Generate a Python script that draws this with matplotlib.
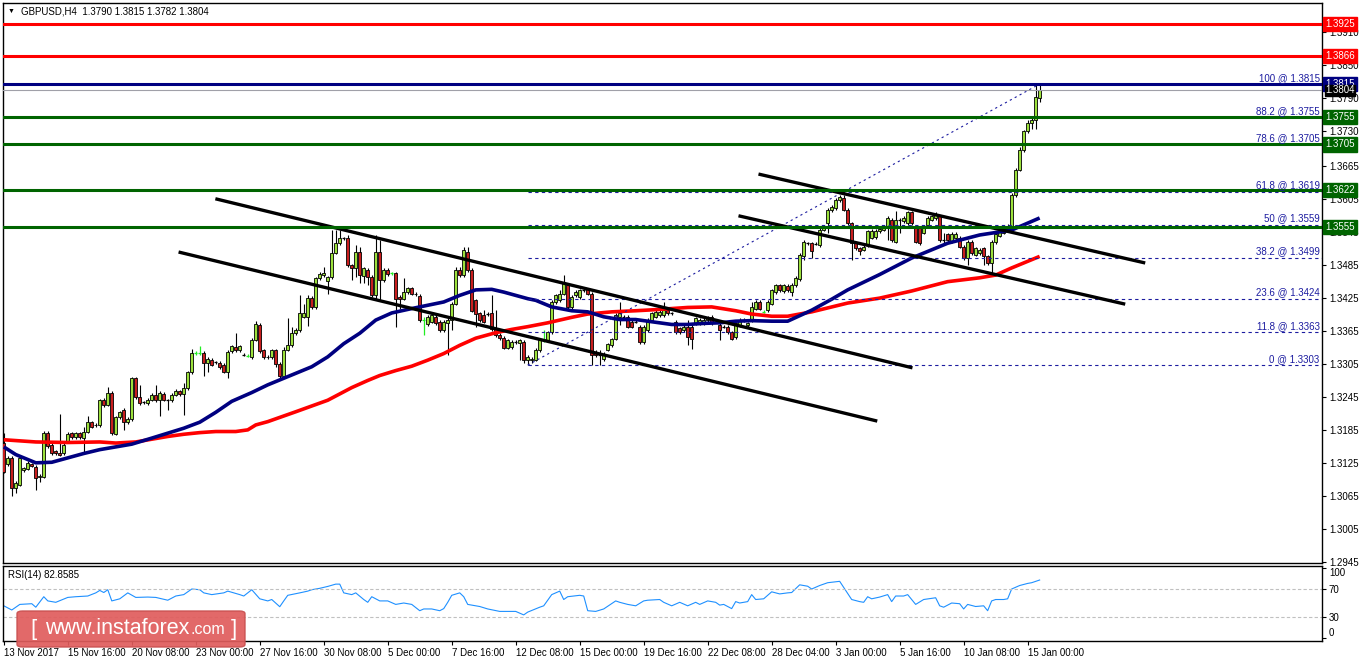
import matplotlib
matplotlib.use("Agg")
import matplotlib.pyplot as plt
import matplotlib.transforms as mtransforms
from matplotlib.patches import Rectangle, FancyBboxPatch

TITLE = "GBPUSD,H4  1.3790 1.3815 1.3782 1.3804"

# candle prices, in 1e-4 units (13161 -> 1.3161)
opens = [
    13161, 13122, 13134, 13079, 13085, 13112, 13114, 13122, 13118, 13100,
    13100, 13180, 13158, 13146, 13142, 13142, 13164, 13179, 13172, 13179,
    13170, 13182, 13199, 13194, 13194, 13240, 13231, 13252, 13178, 13208,
    13222, 13199, 13205, 13279, 13244, 13235, 13234, 13240, 13249, 13240,
    13251, 13239, 13239, 13249, 13255, 13250, 13261, 13290, 13325, 13325,
    13325, 13307, 13313, 13308, 13307, 13304, 13291, 13328, 13336, 13330,
    13322, 13320, 13318, 13349, 13376, 13330, 13318, 13317, 13330, 13305,
    13283, 13331, 13339, 13361, 13367, 13391, 13391, 13426, 13408, 13461,
    13467, 13457, 13463, 13508, 13525, 13534, 13534, 13485, 13479, 13509,
    13465, 13477, 13464, 13430, 13509, 13458, 13477, 13470, 13470, 13427,
    13424, 13436, 13443, 13433, 13429, 13385, 13378, 13382, 13391, 13382,
    13367, 13379, 13385, 13415, 13476, 13467, 13509, 13476, 13421, 13397,
    13394, 13396, 13397, 13368, 13358, 13353, 13335, 13336, 13345, 13344,
    13345, 13313, 13313, 13313, 13330, 13348, 13348, 13363, 13418, 13421,
    13433, 13448, 13409, 13430, 13427, 13439, 13441, 13433, 13327, 13321,
    13314, 13331, 13339, 13351, 13391, 13391, 13391, 13382, 13382, 13373,
    13345, 13367, 13385, 13391, 13394, 13394, 13403, 13397, 13382, 13370,
    13367, 13373, 13373, 13379, 13379, 13379, 13385, 13391, 13382, 13376,
    13373, 13373, 13363, 13354, 13376, 13385, 13376, 13385, 13406, 13418,
    13400, 13403, 13415, 13436, 13448, 13438, 13447, 13437, 13448, 13460,
    13502, 13525, 13525, 13524, 13522, 13550, 13561, 13585, 13589, 13603,
    13607, 13586, 13561, 13525, 13516, 13513, 13522, 13535, 13536, 13547,
    13550, 13556, 13568, 13528, 13568, 13565, 13562, 13581, 13556, 13553,
    13544, 13559, 13568, 13571, 13574, 13531, 13541, 13528, 13535, 13535,
    13519, 13498, 13528, 13504, 13507, 13516, 13501, 13489, 13527, 13539,
    13544, 13550, 13556, 13612, 13659, 13694, 13729, 13744, 13750, 13790,
]
closes = [
    13109, 13134, 13079, 13088, 13134, 13115, 13125, 13120, 13097, 13101,
    13180, 13155, 13143, 13142, 13140, 13158, 13178, 13172, 13179, 13172,
    13182, 13199, 13191, 13193, 13239, 13230, 13252, 13179, 13208, 13217,
    13200, 13205, 13279, 13244, 13234, 13235, 13240, 13249, 13239, 13252,
    13240, 13239, 13249, 13256, 13250, 13261, 13290, 13325, 13325, 13325,
    13307, 13315, 13304, 13308, 13299, 13291, 13327, 13337, 13330, 13337,
    13322, 13320, 13349, 13378, 13328, 13317, 13317, 13330, 13305, 13283,
    13330, 13339, 13361, 13367, 13397, 13397, 13426, 13408, 13461, 13469,
    13471, 13463, 13508, 13525, 13534, 13534, 13485, 13479, 13509, 13467,
    13479, 13464, 13430, 13509, 13458, 13477, 13469, 13470, 13424, 13424,
    13436, 13443, 13433, 13432, 13385, 13385, 13391, 13394, 13379, 13367,
    13382, 13385, 13415, 13476, 13467, 13512, 13476, 13402, 13396, 13385,
    13382, 13396, 13368, 13358, 13352, 13335, 13348, 13345, 13345, 13348,
    13313, 13318, 13315, 13331, 13348, 13348, 13363, 13418, 13430, 13433,
    13455, 13409, 13427, 13436, 13439, 13439, 13433, 13321, 13321, 13321,
    13324, 13341, 13350, 13394, 13397, 13391, 13373, 13373, 13382, 13345,
    13373, 13385, 13397, 13400, 13400, 13403, 13397, 13397, 13363, 13363,
    13373, 13354, 13351, 13388, 13385, 13385, 13390, 13379, 13382, 13367,
    13373, 13363, 13351, 13379, 13385, 13386, 13379, 13409, 13418, 13406,
    13400, 13418, 13439, 13448, 13439, 13448, 13439, 13449, 13462, 13504,
    13527, 13525, 13510, 13524, 13550, 13556, 13586, 13591, 13604, 13609,
    13586, 13561, 13525, 13516, 13510, 13519, 13547, 13548, 13548, 13551,
    13556, 13571, 13531, 13568, 13568, 13571, 13581, 13562, 13528, 13525,
    13556, 13571, 13574, 13579, 13531, 13531, 13531, 13542, 13542, 13519,
    13498, 13528, 13507, 13516, 13513, 13501, 13489, 13527, 13541, 13547,
    13551, 13557, 13613, 13659, 13695, 13729, 13744, 13750, 13792, 13804,
]
# long wicks (bar -> price); the rest get a short wick
wick_highs = {0: 13180, 1: 13137, 2: 13137, 4: 13137, 14: 13214, 20: 13191, 21: 13211,
              26: 13263, 34: 13267, 38: 13267, 45: 13271, 47: 13332, 49: 13338, 56: 13331,
              58: 13361, 63: 13384, 70: 13336, 71: 13388, 72: 13373, 74: 13430, 75: 13415,
              76: 13430, 80: 13482, 82: 13549, 83: 13549, 84: 13549, 86: 13540, 88: 13521,
              89: 13518, 93: 13540, 94: 13531, 100: 13461, 104: 13430, 105: 13391,
              113: 13482, 114: 13482, 115: 13518, 116: 13518, 120: 13403, 122: 13430,
              123: 13403, 135: 13367, 139: 13439, 140: 13467, 149: 13330, 154: 13418,
              165: 13418, 171: 13385, 187: 13418, 200: 13531, 209: 13613, 210: 13612,
              221: 13574, 223: 13583, 227: 13583, 235: 13544, 254: 13701, 256: 13750,
              258: 13814, 259: 13815}
wick_lows = {0: 13108, 2: 13064, 3: 13070, 8: 13076, 9: 13090, 20: 13143, 30: 13185,
             39: 13210, 41: 13222, 45: 13213, 50: 13284, 51: 13291, 56: 13279, 68: 13300,
             69: 13276, 76: 13374, 81: 13433, 87: 13458, 88: 13464, 89: 13452, 90: 13452,
             91: 13449, 92: 13427, 93: 13421, 94: 13421, 98: 13372, 99: 13406, 105: 13358,
             109: 13364, 111: 13321, 112: 13367, 118: 13373, 125: 13333, 129: 13312,
             130: 13306, 131: 13303, 132: 13306, 147: 13303, 149: 13303, 154: 13376,
             171: 13339, 172: 13333, 179: 13348, 197: 13428, 200: 13495, 202: 13498,
             206: 13544, 212: 13495, 214: 13504, 221: 13531, 224: 13544, 228: 13525,
             235: 13525, 240: 13495, 241: 13486, 245: 13486, 247: 13471, 257: 13733,
             258: 13733, 259: 13782}
bright_doji = [48, 49, 61, 97, 105, 135, 190]

# moving averages read at some bars
ma_fast_bars = [0, 3, 6, 8, 12, 16, 20, 24, 28, 32, 37, 41, 45, 49, 53, 57, 62, 66, 70, 77,
                81, 85, 89, 93, 97, 102, 106, 110, 114, 118, 122, 125, 128, 131, 133, 137, 142,
                146, 150, 154, 158, 162, 167, 171, 175, 179, 183, 187, 192, 196, 202, 207, 211,
                219, 227, 232, 236, 244, 252, 259]
ma_fast = [13154, 13140, 13131, 13125, 13126, 13134, 13142, 13149, 13154, 13159, 13170, 13179,
           13188, 13199, 13217, 13237, 13253, 13267, 13279, 13300, 13318, 13342, 13361, 13385,
           13398, 13406, 13412, 13418, 13430, 13440, 13441, 13436, 13430, 13424, 13421, 13409,
           13402, 13400, 13391, 13386, 13386, 13382, 13377, 13377, 13379, 13380, 13383, 13384,
           13383, 13383, 13403, 13423, 13440, 13468, 13498, 13513, 13525, 13540, 13549, 13571]
ma_slow_bars = [0, 8, 16, 24, 28, 33, 37, 41, 45, 49, 53, 58, 61, 63, 66, 73, 81, 87, 91, 94,
                98, 102, 106, 110, 114, 118, 123, 127, 131, 136, 142, 146, 152, 158, 163, 171,
                177, 183, 187, 192, 196, 202, 211, 219, 227, 236, 244, 248, 252, 259]
ma_slow = [13167, 13163, 13162, 13163, 13161, 13163, 13168, 13173, 13177, 13180, 13182, 13182,
           13185, 13194, 13200, 13218, 13239, 13262, 13275, 13284, 13293, 13301, 13312, 13324,
           13339, 13352, 13362, 13368, 13373, 13380, 13390, 13396, 13400, 13402, 13404, 13408,
           13409, 13402, 13396, 13392, 13392, 13400, 13416, 13425, 13438, 13455, 13462, 13467,
           13480, 13501]

rsi_bars = [0, 2, 4, 7, 8, 10, 11, 13, 16, 18,
            21, 23, 24, 25, 26, 27, 29, 31, 33, 36,
            38, 41, 43, 45, 47, 49, 50, 52, 55, 56,
            59, 60, 62, 64, 66, 67, 69, 70, 71, 74,
            76, 77, 79, 81, 83, 84, 85, 87, 88, 90,
            91, 92, 94, 96, 98, 100, 102, 104, 105, 107,
            109, 110, 111, 112, 114, 115, 116, 119, 121, 124,
            126, 128, 130, 131, 134, 135, 137, 139, 140, 141,
            144, 145, 146, 148, 150, 153, 154, 156, 158, 160,
            161, 164, 165, 167, 169, 171, 173, 174, 176, 178,
            179, 180, 182, 183, 184, 186, 187, 188, 190, 192,
            194, 196, 197, 199, 201, 202, 204, 206, 209, 212,
            214, 215, 216, 217, 219, 221, 222, 223, 225, 226,
            228, 230, 233, 234, 235, 237, 239, 240, 241, 243,
            245, 246, 247, 248, 250, 251, 252, 254, 256, 257, 259]
rsi_vals = [46, 40, 48, 49, 44, 59, 53, 51, 58, 59,
            60, 64.5, 68, 65, 69, 53, 56, 64.5, 58, 58.5,
            58, 54, 60, 62, 70, 69, 64.5, 62, 64.5, 67,
            62, 60, 69, 56, 53, 55, 44.7, 53, 61, 64.5,
            67, 69, 71, 73.7, 77, 77, 64.5, 62, 64.5, 55,
            51, 59, 53, 53, 48, 50, 48, 39, 41.5, 41.5,
            39, 42, 51, 61, 64.5, 59, 48, 45, 41.5, 38,
            38, 38, 33, 37, 44, 46, 62, 67, 55, 59,
            61, 60, 39, 38, 41.5, 53, 51, 48, 46, 53,
            54, 55, 51, 46, 51, 46, 51, 48, 53, 51,
            47, 48, 42, 52, 50, 52, 62, 55, 56, 66,
            63, 64.5, 65, 76, 74, 70, 75, 79, 81, 55,
            52, 51, 59, 56, 58.5, 62, 52, 60, 60, 62,
            48, 55, 57.5, 46, 44, 50, 49, 41.5, 48, 45,
            46, 39, 53, 55, 55, 56, 70, 75, 78, 79, 82.86]

# horizontal levels
red_levels = [1.3925, 1.3866]
blue_level = 1.3815
bid_level = 1.3804
green_levels = [1.3755, 1.3705, 1.3622, 1.3555]

fib_names = ["0", "11.8", "23.6", "38.2", "50", "61.8", "78.6", "88.2", "100"]
fib_prices = [1.3303, 1.3363, 1.3424, 1.3499, 1.3559, 1.3619, 1.3705, 1.3755, 1.3815]
fib_from_bar, fib_to_bar = 131, 259

# channel trend lines: (bar, price) -> (bar, price)
channels = [((52.9, 1.3606), (227.2, 1.3298)),
            ((43.7, 1.3509), (218.4, 1.3201)),
            ((188.7, 1.3651), (285.4, 1.3489)),
            ((183.7, 1.3575), (280.4, 1.3414))]

price_ticks = [1.2945, 1.3005, 1.3065, 1.3125, 1.3185, 1.3245, 1.3305, 1.3365, 1.3425,
               1.3485, 1.3545, 1.3605, 1.3665, 1.3730, 1.3790, 1.3850, 1.3910]
date_labels = ["13 Nov 2017", "15 Nov 16:00", "20 Nov 08:00", "23 Nov 00:00", "27 Nov 16:00",
               "30 Nov 08:00", "5 Dec 00:00", "7 Dec 16:00", "12 Dec 08:00", "15 Dec 00:00",
               "19 Dec 16:00", "22 Dec 08:00", "28 Dec 04:00", "3 Jan 00:00", "5 Jan 16:00",
               "10 Jan 08:00", "15 Jan 00:00"]

plt.rcParams["font.family"] = ["Liberation Sans", "DejaVu Sans"]

NAVY = "#000080"
GREEN = "#006400"
FIB = "#1c1ca0"
BULL = "#9be03c"
BEAR = "#c81e1e"
FS = 7

W, H = 1362, 661
fig = plt.figure(figsize=(W / 100, H / 100), dpi=100)
fig.patch.set_facecolor("white")
ax = fig.add_axes([3 / W, (H - 563) / H, 1319 / W, 560 / H])
rax = fig.add_axes([3 / W, (H - 641) / H, 1319 / W, 75 / H])

xmin, xmax = -0.2, 329.6
ax.set_xlim(xmin, xmax)
ax.set_ylim(1.29425, 1.39626)

# candles
for i in range(len(closes)):
    o = opens[i] / 1e4
    c = closes[i] / 1e4
    top, bot = max(o, c), min(o, c)
    hi = max(wick_highs.get(i, 0) / 1e4, top + 0.0003)
    lo = min(wick_lows.get(i, 99999) / 1e4, bot - 0.0003)
    if i in bright_doji:
        ax.vlines(i, lo, hi, color="#22ee22", lw=0.9, zorder=2)
        ax.hlines(c, i - 0.4, i + 0.4, color="#22ee22", lw=0.9, zorder=2)
        continue
    ax.vlines(i, lo, hi, color="black", lw=0.8, zorder=2)
    if abs(c - o) < 0.00005:
        ax.hlines(c, i - 0.4, i + 0.4, color="black", lw=0.9, zorder=3)
    else:
        ax.add_patch(Rectangle((i - 0.35, bot), 0.7, top - bot,
                               facecolor=BULL if c > o else BEAR,
                               edgecolor="black", lw=0.6, zorder=3))

ax.plot(ma_slow_bars, [v / 1e4 for v in ma_slow], color="#ff0000", lw=2.6,
        solid_capstyle="butt", zorder=4)
ax.plot(ma_fast_bars, [v / 1e4 for v in ma_fast], color=NAVY, lw=2.6,
        solid_capstyle="butt", zorder=4)

# fibonacci
for name, p in zip(fib_names, fib_prices):
    ax.hlines(p, fib_from_bar, xmax, color=FIB, lw=0.8, linestyles=(0, (3, 3)), zorder=5)
    ax.text(xmax - 0.6, p + 0.0002, f"{name} @ {p:.4f}", ha="right", va="bottom",
            fontsize=7, color=FIB, zorder=8)
ax.plot([fib_from_bar, fib_to_bar], [fib_prices[0], fib_prices[-1]], color=FIB, lw=0.8,
        linestyle=(0, (2, 3)), zorder=5)

for (x0, y0), (x1, y1) in channels:
    ax.plot([x0, x1], [y0, y1], color="black", lw=2.4, solid_capstyle="butt", zorder=6)

for p in red_levels:
    ax.axhline(p, color="#ff0000", lw=2.2, zorder=7)
for p in green_levels:
    ax.axhline(p, color=GREEN, lw=2.2, zorder=7)
ax.axhline(blue_level, color=NAVY, lw=2.2, zorder=7)
ax.axhline(bid_level, color="#a0a0a8", lw=0.8, zorder=7)

# price axis
ax.yaxis.tick_right()
ax.set_yticks(price_ticks)
ax.set_yticklabels([f"{t:.4f}" for t in price_ticks])
ax.tick_params(axis="y", labelsize=FS, length=3, width=0.8, pad=2, colors="black")
ax.set_xticks([])

trans = mtransforms.blended_transform_factory(ax.transAxes, ax.transData)
tags = [(p, "#ff0000", 0.22) for p in red_levels] + [(blue_level, NAVY, 0.22)] + \
       [(p, GREEN, 0.22) for p in green_levels] + [(bid_level, "black", 0.05)]
for p, col, pad in tags:
    ax.annotate(f"{p:.4f}", xy=(1, p), xycoords=trans, xytext=(2.5, 0),
                textcoords="offset points", ha="left", va="center", fontsize=FS,
                color="white", annotation_clip=False, zorder=10,
                bbox=dict(boxstyle=f"square,pad={pad}", fc=col, ec=col))

ax.text(18 / 1319, 0.985, TITLE, transform=ax.transAxes, fontsize=FS, va="center",
        ha="left")
ax.text(5 / 1319, 0.985, "\u25bc", transform=ax.transAxes, fontsize=5, va="center",
        ha="left")

# RSI panel
rax.set_xlim(xmin, xmax)
rax.set_ylim(-4.3, 102.9)
rax.plot(rsi_bars, rsi_vals, color="#1e90ff", lw=0.8)
for lvl in (70, 30):
    rax.axhline(lvl, color="#c0c0c0", lw=0.8, linestyle=(0, (3, 2)))
rax.yaxis.tick_right()
rax.set_yticks([100, 70, 30, 0])
rax.set_yticklabels(["100", "70", "30", "0"])
rax.tick_params(axis="y", labelsize=FS, length=3, width=0.8, pad=2)
labs = rax.get_yticklabels()
labs[0].set_va("top")
labs[3].set_va("bottom")
rax.text(5 / 1319, 0.88, "RSI(14) 82.8585", transform=rax.transAxes, fontsize=FS,
         va="center", ha="left")

rax.set_xticks(range(0, 16 * len(date_labels), 16))
rax.set_xticklabels(date_labels, ha="left")
rax.tick_params(axis="x", labelsize=FS, length=3, width=0.8, pad=2)

for a in (ax, rax):
    for s in a.spines.values():
        s.set_linewidth(1.0)
        s.set_color("black")

# watermark
fig.patches.append(FancyBboxPatch((17 / W, (H - 647) / H), 228 / W, 36 / H,
                                  boxstyle="round,pad=0,rounding_size=0.004",
                                  transform=fig.transFigure, fc="#e05c5c", ec="#c85050",
                                  lw=1.0, alpha=0.92, zorder=20))
renderer = fig.canvas.get_renderer()
ymark = (H - 629) / H
fig.text(30 / W, ymark, "[", color="white", fontsize=16, va="center", ha="left",
         zorder=21, fontweight="light")
t_main = fig.text(45 / W, ymark, "www.instaforex", color="white", fontsize=15.5,
                  va="center", ha="left", zorder=21)
end_px = t_main.get_window_extent(renderer).x1
fig.text((end_px + 1) / W, ymark - 1 / H, ".com", color="white", fontsize=11.5,
         va="center", ha="left", zorder=21)
fig.text(231 / W, ymark, "]", color="white", fontsize=16, va="center", ha="left",
         zorder=21)

fig.savefig("out.png", dpi=100, facecolor="white")
